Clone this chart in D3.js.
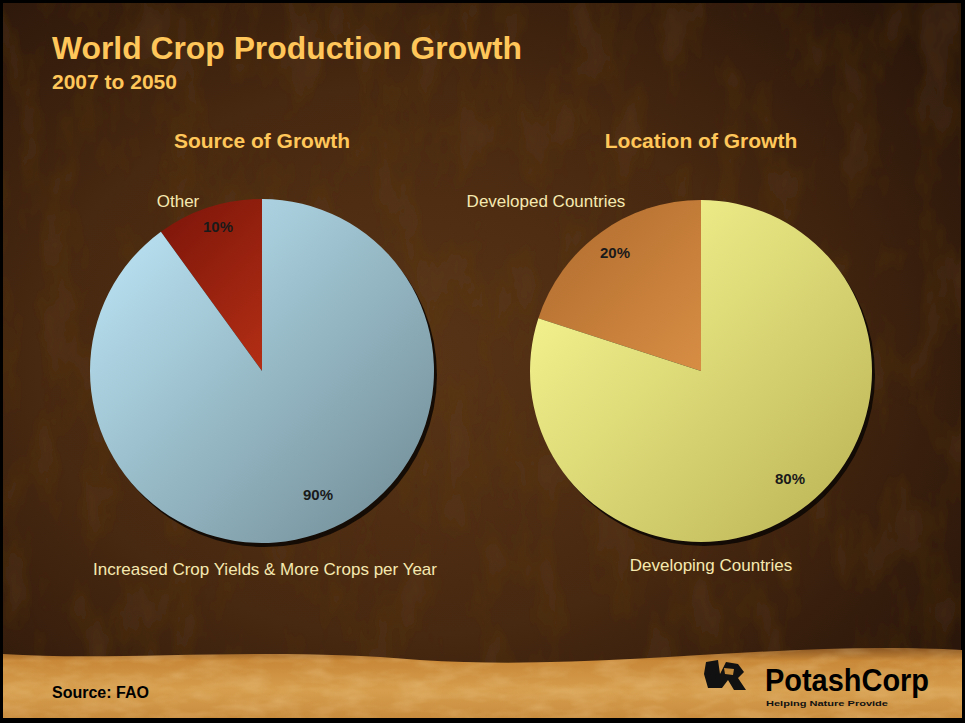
<!DOCTYPE html>
<html><head><meta charset="utf-8">
<script src="https://cdn.jsdelivr.net/npm/d3@7"></script>
<style>html,body{margin:0;padding:0;background:#000;}svg{display:block;}</style>
</head><body>
<script>
const title = "World Crop Production Growth";
const subtitle = "2007 to 2050";
const source = "Source: FAO";
const chartTitles = ["Source of Growth", "Location of Growth"];
const sourceLabels = ["Other", "Increased Crop Yields & More Crops per Year"];
const sourceValues = [10, 90];
const locationLabels = ["Developed Countries", "Developing Countries"];
const locationValues = [20, 80];

const W = 965, H = 723;
const FONT = "Liberation Sans, Arial, sans-serif";
const svg = d3.select("body").append("svg").attr("width", W).attr("height", H);
const defs = svg.append("defs");

const bg = defs.append("radialGradient").attr("id","bg").attr("cx","0.42").attr("cy","0.5").attr("r","0.7");
bg.append("stop").attr("offset","0").attr("stop-color","#583416");
bg.append("stop").attr("offset","0.55").attr("stop-color","#472810");
bg.append("stop").attr("offset","1").attr("stop-color","#2a160a");
const band = defs.append("linearGradient").attr("id","band").attr("x1","0").attr("y1","0").attr("x2","0").attr("y2","1");
band.append("stop").attr("offset","0").attr("stop-color","#8a5622");
band.append("stop").attr("offset","0.18").attr("stop-color","#c88838");
band.append("stop").attr("offset","0.6").attr("stop-color","#d69e4e");
band.append("stop").attr("offset","1").attr("stop-color","#c98c3e");
const tex = defs.append("filter").attr("id","tex").attr("x","0").attr("y","0").attr("width","1").attr("height","1");
tex.append("feTurbulence").attr("type","fractalNoise").attr("baseFrequency","0.025 0.012").attr("numOctaves",4).attr("seed",7).attr("result","n");
tex.append("feColorMatrix").attr("in","n").attr("type","matrix")
  .attr("values","0 0 0 0 0.12  0 0 0 0 0.05  0 0 0 0 0.01  0 0 0 -0.9 0.5").attr("result","m");
tex.append("feComposite").attr("in","m").attr("in2","SourceGraphic").attr("operator","in");
const tex2 = defs.append("filter").attr("id","tex2").attr("x","0").attr("y","0").attr("width","1").attr("height","1");
tex2.append("feTurbulence").attr("type","fractalNoise").attr("baseFrequency","0.03 0.08").attr("numOctaves",3).attr("seed",2).attr("result","n");
tex2.append("feColorMatrix").attr("in","n").attr("type","matrix")
  .attr("values","0 0 0 0 0.95  0 0 0 0 0.75  0 0 0 0 0.4  0 0 0 -0.8 0.5").attr("result","m");
tex2.append("feComposite").attr("in","m").attr("in2","SourceGraphic").attr("operator","in");

svg.append("rect").attr("width",W).attr("height",H).attr("fill","#000");
svg.append("rect").attr("x",3).attr("y",3).attr("width",W-7).attr("height",H-8).attr("fill","url(#bg)");
svg.append("rect").attr("x",3).attr("y",3).attr("width",W-7).attr("height",H-8).attr("fill","#000").attr("filter","url(#tex)");
const bandPath = "M3,654 C120,662 260,646 420,660 C600,672 780,640 962,650 L962,718 L3,718 Z";
svg.append("path").attr("d",bandPath).attr("fill","url(#band)");
svg.append("path").attr("d",bandPath).attr("fill","#000").attr("filter","url(#tex2)").attr("opacity",0.6);

const gold = "#ffc65a";
svg.append("text").attr("x",52).attr("y",59).attr("fill",gold)
  .attr("font-family",FONT).attr("font-weight","bold").attr("font-size",32)
  .attr("textLength",470).attr("lengthAdjust","spacingAndGlyphs").text(title);
svg.append("text").attr("x",52).attr("y",89).attr("fill",gold)
  .attr("font-family",FONT).attr("font-weight","bold").attr("font-size",21).text(subtitle);

const pies = [
  {cx:262, cy:371, r:172, title:chartTitles[0], labels:sourceLabels, values:sourceValues,
   colors:[["#7e160a","#e8461e"],["#b6deee","#78959f"]],
   pctPos:[[218,232],[318,500]],
   labelPos:[[178,207],[265,575]]},
  {cx:701, cy:371, r:171, title:chartTitles[1], labels:locationLabels, values:locationValues,
   colors:[["#b87232","#f6a855"],["#f4f490","#c2bb5c"]],
   pctPos:[[615,258],[790,484]],
   labelPos:[[546,207],[711,571]]}
];

pies.forEach((p,i) => {
  const cData = p.values.map((v,j)=>({label:p.labels[j], value:v, idx:j}));
  const total = d3.sum(p.values);
  const off = 2*Math.PI*p.values[0]/total;
  const pie = d3.pie().value(d=>d.value).sort(null).startAngle(-off).endAngle(2*Math.PI - off);
  const arcs = pie(cData);
  const arc = d3.arc().innerRadius(0).outerRadius(p.r);
  p.colors.forEach((c,j)=>{
    const g = defs.append("linearGradient").attr("id",`g${i}${j}`)
      .attr("gradientUnits","userSpaceOnUse")
      .attr("x1",-p.r*0.75).attr("y1",-p.r*0.75).attr("x2",p.r*0.75).attr("y2",p.r*0.75);
    g.append("stop").attr("offset","0").attr("stop-color",c[0]);
    g.append("stop").attr("offset","1").attr("stop-color",c[1]);
  });
  const g = svg.append("g").attr("transform",`translate(${p.cx},${p.cy})`);
  g.append("circle").attr("cx",3).attr("cy",4).attr("r",p.r).attr("fill","#0a0604").attr("opacity",0.85);
  g.selectAll("path.s").data(arcs).join("path").attr("class","s")
    .attr("d",arc).attr("fill",d=>`url(#g${i}${d.data.idx})`);

  svg.append("text").attr("x",p.cx).attr("y",148).attr("text-anchor","middle").attr("fill",gold)
    .attr("font-family",FONT).attr("font-weight","bold").attr("font-size",21).text(p.title);
  arcs.forEach((d,j)=>{
    svg.append("text").attr("x",p.pctPos[j][0]).attr("y",p.pctPos[j][1]).attr("text-anchor","middle")
      .attr("fill","#1a1a1a").attr("font-family",FONT).attr("font-weight","bold")
      .attr("font-size",15).text(d.data.value + "%");
    svg.append("text").attr("x",p.labelPos[j][0]).attr("y",p.labelPos[j][1]).attr("text-anchor","middle")
      .attr("fill","#f6e9b0").attr("font-family",FONT)
      .attr("font-size",17).text(d.data.label);
  });
});

svg.append("text").attr("x",52).attr("y",698).attr("fill","#000")
  .attr("font-family",FONT).attr("font-weight","bold").attr("font-size",16).text(source);

const lg = svg.append("g").attr("transform","translate(704,660)");
lg.append("path").attr("d","M2,2 L14,0 L16,14 L22,2 L34,4 L40,12 L34,18 L42,30 L30,30 L24,20 L18,28 L4,28 L0,14 Z").attr("fill","#111");
lg.append("path").attr("d","M20,8 L30,9 L29,15 L21,14 Z").attr("fill","#c48a3c");
svg.append("text").attr("x",765).attr("y",691).attr("fill","#000")
  .attr("font-family",FONT).attr("font-weight","bold").attr("font-size",32)
  .attr("textLength",164).attr("lengthAdjust","spacingAndGlyphs").text("PotashCorp");
svg.append("text").attr("x",766).attr("y",706).attr("fill","#111")
  .attr("font-family",FONT).attr("font-weight","bold").attr("font-size",8)
  .attr("textLength",122).attr("lengthAdjust","spacingAndGlyphs").text("Helping Nature Provide");
</script>
</body></html>
